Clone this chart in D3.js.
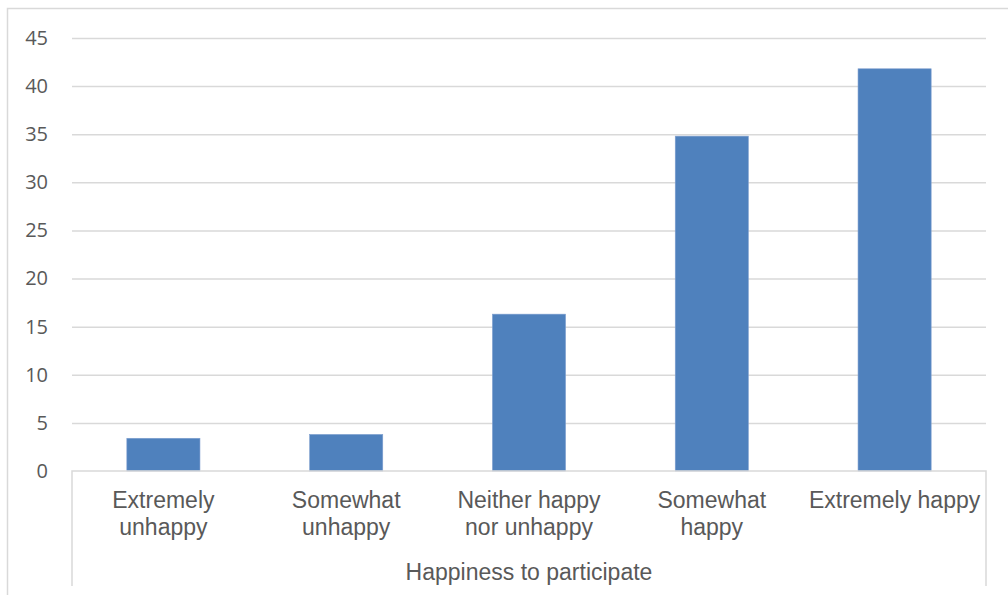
<!DOCTYPE html>
<html>
<head>
<meta charset="utf-8">
<script src="https://cdn.jsdelivr.net/npm/d3@7"></script>
<style>
  body { margin: 0; background: #fff; }
  svg { display: block; }
</style>
</head>
<body>
<svg id="chart" width="1008" height="595"></svg>
<script>
// data
var categories = ["Extremely unhappy", "Somewhat unhappy", "Neither happy nor unhappy", "Somewhat happy", "Extremely happy"];
var labelLines = [["Extremely", "unhappy"], ["Somewhat", "unhappy"], ["Neither happy", "nor unhappy"], ["Somewhat", "happy"], ["Extremely happy"]];
var values = [3.4, 3.8, 16.3, 34.8, 41.8];
var yTicks = [0, 5, 10, 15, 20, 25, 30, 35, 40, 45];
var axisTitle = "Happiness to participate";

var svg = d3.select("#chart");
var plotLeft = 72, plotRight = 986, plotTop = 38, plotBottom = 471;

// outer chart border (only top and left fall inside the picture)
svg.append("path")
  .attr("d", "M7.5,595 V8.5 H1008")
  .attr("fill", "none")
  .attr("stroke", "#d9d9d9")
  .attr("stroke-width", 1.5);

var x = d3.scaleBand()
  .domain(categories)
  .range([plotLeft, plotRight])
  .paddingInner(0.6)
  .paddingOuter(0.3);

var y = d3.scaleLinear()
  .domain([0, 45])
  .range([plotBottom, plotTop]);

// gridlines
var grid = svg.append("g")
  .attr("transform", "translate(" + plotLeft + ",0)")
  .call(d3.axisLeft(y).tickValues(yTicks.slice(1)).tickSize(-(plotRight - plotLeft)).tickFormat(""));
grid.select(".domain").remove();
grid.selectAll("line").attr("stroke", "#d9d9d9").attr("stroke-width", 1.5);

// y tick labels
var yAxis = svg.append("g")
  .attr("transform", "translate(" + plotLeft + ",0)")
  .call(d3.axisLeft(y).tickValues(yTicks).tickSize(0).tickPadding(24));
yAxis.select(".domain").remove();
yAxis.selectAll("text")
  .attr("fill", "#595959")
  .style("font-family", "'Open Sans', sans-serif")
  .style("font-size", "20px");

// bars
svg.append("g").selectAll("rect")
  .data(values)
  .enter()
  .append("rect")
  .attr("x", (d, i) => x(categories[i]))
  .attr("y", d => y(d))
  .attr("width", x.bandwidth())
  .attr("height", d => y(0) - y(d))
  .attr("fill", "#4f81bd")
  .attr("stroke", "#7f9fcf")
  .attr("stroke-width", 0.6);

// category axis: baseline + outer box of the multi-level labels
svg.append("path")
  .attr("d", "M" + plotLeft + ",586 V" + plotBottom + " H" + plotRight + " V586")
  .attr("fill", "none")
  .attr("stroke", "#d9d9d9")
  .attr("stroke-width", 1.5);

var catLabels = svg.append("g").selectAll("text")
  .data(labelLines)
  .enter()
  .append("text")
  .attr("text-anchor", "middle")
  .attr("fill", "#595959")
  .style("font-family", "'Liberation Sans', Arial, sans-serif")
  .style("font-size", "23px");

catLabels.each(function(lines, i) {
  var t = d3.select(this);
  var cx = x(categories[i]) + x.bandwidth() / 2;
  lines.forEach(function(line, j) {
    t.append("tspan")
      .attr("x", cx)
      .attr("y", 508 + j * 27)
      .text(line);
  });
});

svg.append("text")
  .attr("x", (plotLeft + plotRight) / 2)
  .attr("y", 580)
  .attr("text-anchor", "middle")
  .attr("fill", "#595959")
  .style("font-family", "'Liberation Sans', Arial, sans-serif")
  .style("font-size", "23px")
  .text(axisTitle);
</script>
</body>
</html>
